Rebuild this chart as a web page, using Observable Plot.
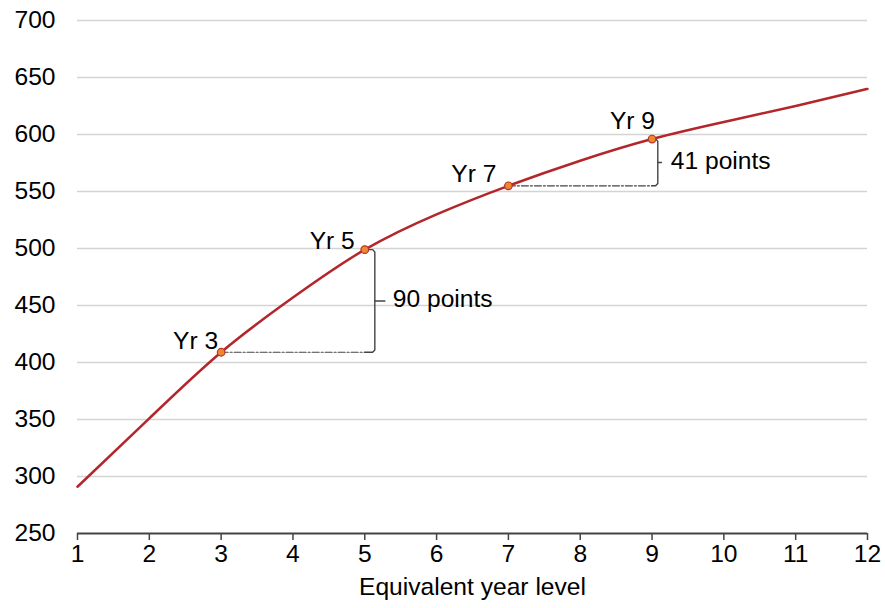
<!DOCTYPE html>
<html>
<head>
<meta charset="utf-8">
<script src="https://cdn.jsdelivr.net/npm/d3@7"></script>
<script src="https://cdn.jsdelivr.net/npm/@observablehq/plot@0.6"></script>
<style>
  html, body { margin: 0; padding: 0; background: #fff; }
  svg { display: block; }
</style>
</head>
<body>
<div id="chart"></div>
<script>
const years = [1, 2, 3, 4, 5, 6, 7, 8, 9, 10, 11, 12];
const scores = [291, 351, 409, 457, 499, 530, 555, 577, 596, 611, 625, 640];
const markedYears = [3, 5, 7, 9];
const markLabels = ["Yr 3", "Yr 5", "Yr 7", "Yr 9"];
const yTicks = [250, 300, 350, 400, 450, 500, 550, 600, 650, 700];
const xTicks = [1, 2, 3, 4, 5, 6, 7, 8, 9, 10, 11, 12];
const gapLabels = ["90 points", "41 points"];

const curve = years.map((x, i) => ({x, y: scores[i]}));
const marked = markedYears.map((x, i) => ({x, y: scores[years.indexOf(x)], label: markLabels[i]}));
const s = (yr) => scores[years.indexOf(yr)];

// label offsets (px) per marker
const labelOffsets = [[-3, -11], [-10, -9], [-12, -12], [3, -18]];

// bracket helpers (data units)
function bracket(x0, x1, off, yLow, yHigh) {
  const bx = x1 + off;
  return {
    dashed: [{x: x0, y: yLow}, {x: x1, y: yLow}],
    path: [
      {x: x1 - 0.02, y: yHigh}, {x: bx - 0.03, y: yHigh}, {x: bx, y: yHigh - 2},
      {x: bx, y: yLow + 2}, {x: bx - 0.03, y: yLow}, {x: x1, y: yLow}
    ],
    tick: [{x: bx, y: (yLow + yHigh) / 2}, {x: bx + 0.14, y: (yLow + yHigh) / 2}],
    mid: {x: bx, y: (yLow + yHigh) / 2}
  };
}
const b1 = bracket(3, 5, 0.14, s(3), s(5));
const b2 = bracket(7, 9, 0.08, s(7), s(9));
b2.tick = [{x: 9.08, y: (s(7) + s(9)) / 2}, {x: 9.13, y: (s(7) + s(9)) / 2}];

const font = "'Liberation Sans', Arial, sans-serif";
const fs = 24.6;

const plot = Plot.plot({
  width: 885,
  height: 608,
  marginLeft: 77,
  marginRight: 18,
  marginTop: 20,
  marginBottom: 75,
  style: {fontFamily: font, fontSize: fs + "px", color: "#000", background: "#fff"},
  x: {domain: [1, 12]},
  y: {domain: [250, 700]},
  marks: [
    Plot.ruleY(yTicks.filter(d => d > 250), {stroke: "#d4d4d4", strokeWidth: 1.5}),
    Plot.axisY({ticks: yTicks, tickSize: 0, tickPadding: 22, label: null, fontSize: fs}),
    Plot.axisX({ticks: xTicks, tickSize: 7, tickPadding: 4, label: null, fontSize: fs, stroke: "#444", strokeWidth: 1.5}),
    Plot.ruleY([250], {stroke: "#444", strokeWidth: 2}),
    Plot.text(["Equivalent year level"], {frameAnchor: "bottom", dy: 61, fontSize: fs, fill: "#000"}),
    // brackets
    Plot.line(b1.dashed, {x: "x", y: "y", stroke: "#444", strokeWidth: 1.2, strokeDasharray: "7,2,2,2"}),
    Plot.line(b1.path, {x: "x", y: "y", stroke: "#444", strokeWidth: 1.4, curve: "linear"}),
    Plot.line(b1.tick, {x: "x", y: "y", stroke: "#444", strokeWidth: 1.4}),
    Plot.text([gapLabels[0]], {x: b1.mid.x, y: b1.mid.y, dx: 18, dy: -2, textAnchor: "start", fontSize: fs, fill: "#000"}),
    Plot.line(b2.dashed, {x: "x", y: "y", stroke: "#444", strokeWidth: 1.2, strokeDasharray: "7,2,2,2"}),
    Plot.line(b2.path, {x: "x", y: "y", stroke: "#444", strokeWidth: 1.4, curve: "linear"}),
    Plot.line(b2.tick, {x: "x", y: "y", stroke: "#444", strokeWidth: 1.4}),
    Plot.text([gapLabels[1]], {x: b2.mid.x, y: b2.mid.y, dx: 13, dy: -1, textAnchor: "start", fontSize: fs, fill: "#000"}),
    // curve
    Plot.line(curve, {x: "x", y: "y", stroke: "#b3262b", strokeWidth: 2.5, curve: "natural"}),
    Plot.dot(marked, {x: "x", y: "y", r: 3.8, fill: "#f0862e", stroke: "#b3352b", strokeWidth: 1.2}),
    ...marked.map((d, i) => Plot.text([d], {
      x: "x", y: "y", text: "label", textAnchor: "end",
      dx: labelOffsets[i][0], dy: labelOffsets[i][1], fontSize: fs, fill: "#000"
    }))
  ]
});
document.getElementById("chart").appendChild(plot);
</script>
</body>
</html>
